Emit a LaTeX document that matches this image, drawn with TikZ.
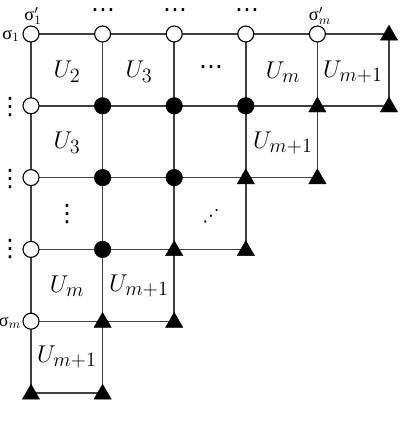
\documentclass[tikz,border=0pt]{standalone}
\usepackage{fontspec}
\newfontfamily\grk{Liberation Serif}
\newfontfamily\dotsfont{DejaVu Sans}
\usetikzlibrary{shapes.geometric}
\begin{document}
\begin{tikzpicture}[x=0.025cm,y=-0.025cm,
  ocirc/.style={circle,draw=black,fill=white,line width=0.8pt,minimum size=0.4cm,inner sep=0pt},
  fcirc/.style={circle,draw=black,fill=black,line width=0.8pt,minimum size=0.4cm,inner sep=0pt},
  tri/.style={regular polygon,regular polygon sides=3,draw=black,fill=black,line width=0.3pt,minimum size=0.5cm,inner sep=0pt,yshift=-0.03cm},
  edge/.style={draw=black!75,line width=1pt},
  ulab/.style={font=\fontsize{19}{22}\selectfont},
  slab/.style={font=\fontsize{13}{15}\selectfont},
  dlab/.style={font=\dotsfont\fontsize{17}{17}\selectfont,inner sep=0pt}]
\useasboundingbox (0,0) rectangle (400,434);
% grid points
\foreach \i in {0,...,5} {\foreach \j in {0,...,5} {\coordinate (p\i\j) at ({31+71.6*\i},{34+71.8*\j});}}
% horizontal edges
\foreach \i/\k/\j in {0/1/0,1/2/0,2/3/0,3/4/0,4/5/0,
  0/1/1,1/2/1,2/3/1,3/4/1,4/5/1,
  0/1/2,1/2/2,2/3/2,3/4/2,
  0/1/3,1/2/3,2/3/3,
  0/1/4,1/2/4,
  0/1/5}
  {\path[edge] (p\i\j) -- (p\k\j);}
% vertical edges
\foreach \i/\j/\k in {0/0/1,0/1/2,0/2/3,0/3/4,0/4/5,
  1/0/1,1/1/2,1/2/3,1/3/4,1/4/5,
  2/0/1,2/1/2,2/2/3,2/3/4,
  3/0/1,3/1/2,3/2/3,
  4/0/1,4/1/2,
  5/0/1}
  {\path[edge] (p\i\j) -- (p\i\k);}
% nodes
\foreach \i/\j/\ty in {0/0/ocirc,1/0/ocirc,2/0/ocirc,3/0/ocirc,4/0/ocirc,5/0/tri,
  0/1/ocirc,1/1/fcirc,2/1/fcirc,3/1/fcirc,4/1/tri,5/1/tri,
  0/2/ocirc,1/2/fcirc,2/2/fcirc,3/2/tri,4/2/tri,
  0/3/ocirc,1/3/fcirc,2/3/tri,3/3/tri,
  0/4/ocirc,1/4/tri,2/4/tri,
  0/5/tri,1/5/tri}
  {\node[\ty] (n\i\j) at (p\i\j) {};}
% labels on top
\node[slab] (s1p) at (33,16) {{\grk σ}${}'_1$};
\node[dlab] (t1) at (103,13) {⋯};
\node[dlab] (t2) at (175,13) {⋯};
\node[dlab] (t3) at (247,13) {⋯};
\node[slab] (smp) at (320,16) {{\grk σ}${}'_m$};
% labels on left
\node[slab] (s1) at (11,36) {{\grk σ}$_1$};
\node[dlab] (v1) at (10,107) {\makebox[6pt]{⋮}};
\node[dlab] (v2) at (10,179) {\makebox[6pt]{⋮}};
\node[dlab] (v3) at (10,249) {\makebox[6pt]{⋮}};
\node[slab] (sm) at (10,323) {{\grk σ}$_m$};
% cell labels
\node[ulab] (u02) at (67,72) {$U_2$};
\node[ulab] (u03) at (139,72) {$U_3$};
\node[dlab] (ud0) at (211,70) {⋯};
\node[ulab] (u0m) at (283,72) {$U_m$};
\node[ulab] (u0m1) at (353,72) {$U_{m+1}$};
\node[ulab] (u13) at (67,143) {$U_3$};
\node[ulab] (u1m1) at (283,143) {$U_{m+1}$};
\node[dlab] (vd) at (67,214) {\makebox[6pt]{⋮}};
\node[dlab,font=\dotsfont\fontsize{12}{12}\selectfont] (dd) at (211,216) {⋰};
\node[ulab] (u3m) at (67,286) {$U_m$};
\node[ulab] (u3m1) at (139,286) {$U_{m+1}$};
\node[ulab] (u4m1) at (67,357) {$U_{m+1}$};
\end{tikzpicture}
\end{document}
